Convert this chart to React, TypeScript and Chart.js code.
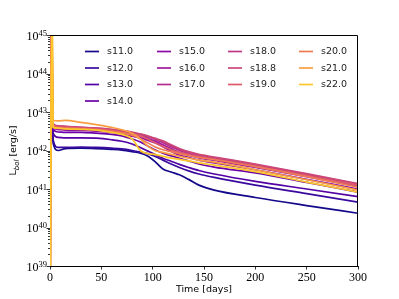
import { useEffect, useRef } from "react";
import { Chart, registerables } from "chart.js";

Chart.register(...registerables);

// ---- data (log10 of L_bol in erg/s) ----
const names = ["s11.0", "s12.0", "s13.0", "s14.0", "s15.0", "s16.0", "s17.0", "s18.0", "s18.8", "s19.0", "s20.0", "s21.0", "s22.0"];
const colors = ["#13098a", "#3a0a9e", "#5302a3", "#6c01a8", "#8b0aa5", "#a01a9c", "#b32c8e", "#bd3786", "#cc4778", "#dd5b6b", "#ef7b55", "#f99e43", "#fcc829"];
const days = [3, 8, 15, 30, 45, 60, 70, 80, 88, 95, 102, 110, 118, 126, 135, 145, 160, 200, 250, 300];
const spikeDay = [0.4, 0.5, 0.6, 0.7, 0.8, 0.9, 1.0, 1.1, 1.2, 1.3, 1.5, 1.8, 2.0];
const spikeLow = 37;
const spikeHigh = 46;

const s11 = [42.2, 42.0, 42.05, 42.06, 42.05, 42.03, 42.01, 41.97, 41.93, 41.86, 41.72, 41.52, 41.44, 41.37, 41.25, 41.1, 40.97, 40.78, 40.57, 40.37];
const s12 = [42.28, 42.08, 42.08, 42.09, 42.08, 42.06, 42.04, 42.0, 41.96, 41.92, 41.85, 41.75, 41.65, 41.56, 41.47, 41.39, 41.3, 41.1, 40.88, 40.66];
const s13 = [42.45, 42.34, 42.33, 42.33, 42.32, 42.28, 42.24, 42.17, 42.08, 41.99, 41.9, 41.8, 41.72, 41.64, 41.56, 41.48, 41.39, 41.2, 41.0, 40.8];
const s14 = [42.55, 42.48, 42.47, 42.47, 42.45, 42.42, 42.38, 42.3, 42.22, 42.12, 42.02, 41.93, 41.86, 41.8, 41.73, 41.65, 41.57, 41.42, 41.17, 40.92];
const s15 = [42.62, 42.55, 42.53, 42.52, 42.5, 42.47, 42.43, 42.37, 42.33, 42.27, 42.2, 42.1, 41.98, 41.88, 41.82, 41.75, 41.68, 41.5, 41.25, 41.0];
const s16 = [42.6, 42.55, 42.55, 42.54, 42.52, 42.5, 42.47, 42.42, 42.38, 42.32, 42.25, 42.15, 42.05, 41.95, 41.88, 41.81, 41.74, 41.56, 41.32, 41.07];
const s17 = [42.66, 42.61, 42.6, 42.58, 42.56, 42.52, 42.49, 42.45, 42.41, 42.36, 42.3, 42.2, 42.1, 42.0, 41.92, 41.85, 41.78, 41.6, 41.36, 41.11];
const s18 = [42.68, 42.63, 42.62, 42.6, 42.58, 42.54, 42.51, 42.46, 42.42, 42.37, 42.3, 42.22, 42.12, 42.03, 41.95, 41.88, 41.81, 41.63, 41.38, 41.13];
const s18_8 = [42.7, 42.64, 42.63, 42.6, 42.58, 42.55, 42.52, 42.48, 42.43, 42.38, 42.32, 42.25, 42.15, 42.05, 41.97, 41.9, 41.83, 41.65, 41.4, 41.14];
const s19 = [42.66, 42.61, 42.6, 42.58, 42.56, 42.52, 42.48, 42.43, 42.38, 42.3, 42.2, 42.1, 42.02, 41.95, 41.9, 41.84, 41.78, 41.6, 41.35, 41.1];
const s20 = [42.64, 42.59, 42.58, 42.56, 42.54, 42.5, 42.46, 42.4, 42.3, 42.2, 42.1, 42.02, 41.97, 41.92, 41.87, 41.82, 41.76, 41.58, 41.32, 41.05];
const s21 = [42.78, 42.77, 42.78, 42.73, 42.67, 42.6, 42.54, 42.45, 42.3, 42.12, 42.0, 41.95, 41.9, 41.85, 41.8, 41.75, 41.7, 41.5, 41.24, 40.97];
const s22 = [42.6, 42.58, 42.56, 42.55, 42.53, 42.47, 42.42, 42.3, 42.0, 41.92, 41.9, 41.85, 41.8, 41.77, 41.73, 41.68, 41.62, 41.45, 41.18, 40.92];
const series = [s11, s12, s13, s14, s15, s16, s17, s18, s18_8, s19, s20, s21, s22];

const xTicks = [0, 50, 100, 150, 200, 250, 300];
const yDecades = [39, 40, 41, 42, 43, 44, 45];
const legendColumns = [[0, 1, 2, 3], [4, 5, 6], [7, 8, 9], [10, 11, 12]];

const SERIF = '"Liberation Serif", "DejaVu Serif", serif';
const SANS = '"DejaVu Sans", sans-serif';

const decorPlugin = {
  id: "decor",
  afterDraw(chart: any) {
    const { ctx, chartArea } = chart;
    const { left, right, top, bottom } = chartArea;
    const yScale = chart.scales.y;
    ctx.save();
    // top & right spines
    ctx.strokeStyle = "#000";
    ctx.lineWidth = 1;
    ctx.beginPath();
    ctx.moveTo(left, top + 0.5);
    ctx.lineTo(right - 0.5, top + 0.5);
    ctx.lineTo(right - 0.5, bottom);
    ctx.stroke();

    // y ticks (major + minor)
    ctx.lineWidth = 0.8;
    for (let e = yDecades[0]; e < yDecades[yDecades.length - 1]; e++) {
      for (let k = 1; k <= 9; k++) {
        const py = Math.round(yScale.getPixelForValue(k * Math.pow(10, e))) + 0.5;
        const len = k === 1 ? 3.5 : 2;
        ctx.beginPath();
        ctx.moveTo(left - len, py);
        ctx.lineTo(left, py);
        ctx.stroke();
      }
    }
    {
      const py = Math.round(yScale.getPixelForValue(Math.pow(10, yDecades[yDecades.length - 1]))) + 0.5;
      ctx.beginPath();
      ctx.moveTo(left - 3.5, py);
      ctx.lineTo(left, py);
      ctx.stroke();
    }

    // y tick labels 10^n
    ctx.fillStyle = "#000";
    ctx.textBaseline = "alphabetic";
    ctx.textAlign = "left";
    for (const e of yDecades) {
      const py = yScale.getPixelForValue(Math.pow(10, e));
      const exp = String(e);
      ctx.font = `8.5px ${SERIF}`;
      const ew = ctx.measureText(exp).width;
      ctx.font = `12px ${SERIF}`;
      const bw = ctx.measureText("10").width;
      const xr = left - 3;
      ctx.fillText("10", xr - ew - bw, py + 4.5);
      ctx.font = `8.5px ${SERIF}`;
      ctx.fillText(exp, xr - ew, py + 0.5);
    }

    // y title: L_bol [erg/s]
    {
      ctx.save();
      const cy = (top + bottom) / 2;
      ctx.translate(16, cy);
      ctx.rotate(-Math.PI / 2);
      ctx.font = `9.5px ${SANS}`;
      const wL = ctx.measureText("L").width;
      ctx.font = `italic 7px ${SANS}`;
      const wSub = ctx.measureText("bol").width;
      ctx.font = `9.5px ${SANS}`;
      const wRest = ctx.measureText(" [erg/s]").width;
      let x0 = -(wL + wSub + wRest) / 2;
      ctx.textBaseline = "alphabetic";
      ctx.fillStyle = "#000";
      ctx.font = `9.5px ${SANS}`;
      ctx.fillText("L", x0, 0);
      x0 += wL;
      ctx.font = `italic 7px ${SANS}`;
      ctx.fillText("bol", x0, 2.5);
      x0 += wSub;
      ctx.font = `9.5px ${SANS}`;
      ctx.fillText(" [erg/s]", x0, 0);
      ctx.restore();
    }

    // x title
    ctx.font = `9.5px ${SANS}`;
    ctx.textAlign = "center";
    ctx.textBaseline = "middle";
    ctx.fillText("Time [days]", (left + right) / 2, bottom + 24);

    // legend (4 columns, column-major)
    const colX = [left + 35, left + 107, left + 178, left + 249];
    const rowY = [top + 16.5, top + 33, top + 49.5, top + 66];
    ctx.font = `9.5px ${SANS}`;
    ctx.textAlign = "left";
    ctx.textBaseline = "middle";
    legendColumns.forEach((col, ci) => {
      col.forEach((idx, ri) => {
        const x = colX[ci];
        const y = rowY[ri];
        ctx.strokeStyle = colors[idx];
        ctx.lineWidth = 1.7;
        ctx.beginPath();
        ctx.moveTo(x, y);
        ctx.lineTo(x + 14, y);
        ctx.stroke();
        ctx.fillStyle = "#222";
        ctx.fillText(names[idx], x + 22, y + 0.5);
      });
    });
    ctx.restore();
  },
};

export default function App() {
  const canvasRef = useRef<HTMLCanvasElement | null>(null);

  useEffect(() => {
    if (!canvasRef.current) return;
    const datasets = series.map((vals, i) => ({
      label: names[i],
      data: [
        { x: 0, y: Math.pow(10, spikeLow) },
        { x: spikeDay[i], y: Math.pow(10, spikeHigh) },
        ...days.map((d, j) => ({ x: d, y: Math.pow(10, vals[j]) })),
      ],
      borderColor: colors[i],
      backgroundColor: colors[i],
      borderWidth: 1.7,
      pointRadius: 0,
      fill: false,
      cubicInterpolationMode: "monotone" as const,
      order: series.length - i,
    }));

    const chart = new Chart(canvasRef.current, {
      type: "line",
      data: { datasets },
      options: {
        animation: false,
        responsive: false,
        devicePixelRatio: 1,
        layout: { padding: { top: 35, right: 41, left: 0, bottom: 0 } },
        plugins: { legend: { display: false }, tooltip: { enabled: false }, title: { display: false } },
        scales: {
          x: {
            type: "linear",
            min: 0,
            max: 300,
            afterFit: (s: any) => { s.height = 33; },
            afterBuildTicks: (s: any) => { s.ticks = xTicks.map((v) => ({ value: v })); },
            ticks: { font: { family: SERIF, size: 12 }, color: "#000", padding: 1, maxRotation: 0, autoSkip: false },
            grid: { display: true, drawOnChartArea: false, drawTicks: true, tickLength: 3.5, color: "#000", lineWidth: 0.8 },
            border: { display: true, color: "#000", width: 1 },
          },
          y: {
            type: "logarithmic",
            min: Math.pow(10, yDecades[0]),
            max: Math.pow(10, yDecades[yDecades.length - 1]),
            afterFit: (s: any) => { s.width = 50; },
            ticks: { display: false },
            grid: { display: false },
            border: { display: true, color: "#000", width: 1 },
          },
        },
      },
      plugins: [decorPlugin],
    });
    return () => chart.destroy();
  }, []);

  return (
    <div style={{ position: "fixed", left: 0, top: 0, width: 399, height: 299, background: "#fff" }}>
      <canvas ref={canvasRef} width={399} height={299} />
    </div>
  );
}
